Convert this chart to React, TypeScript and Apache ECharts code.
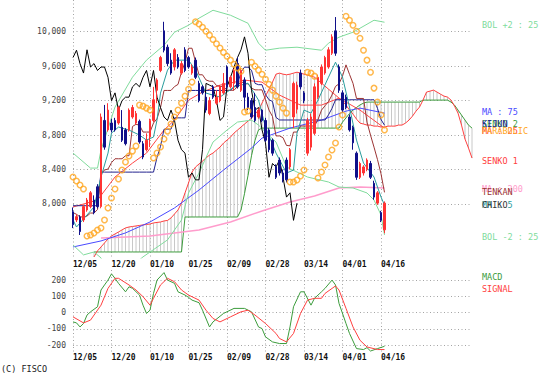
import React, { useEffect, useRef } from 'react';
import * as echarts from 'echarts';

const N = 115;
const tickLabels = ['12/05', '12/20', '01/10', '01/25', '02/09', '02/28', '03/14', '04/01', '04/16'];
const priceTicks = [8000, 8400, 8800, 9200, 9600, 10000];
const macdTicks = [-200, -100, 0, 100, 200];

const opens = [7910,7815,7850,7815,7930,7970,8046,8200,7970,8970,
8860,8940,8970,8940,8890,8860,8860,9010,8940,8960,
8700,8630,8780,8970,9320,9550,10010,9820,9670,9590,
9700,9520,9790,9700,9520,9670,9400,9360,9240,9050,
9360,9170,9200,9290,9590,9360,9400,9630,9320,9440,
9240,9200,9120,9010,9090,8970,8860,8740,8430,8510,
8360,8510,8430,9010,9100,9520,9290,8590,8660,8820,
9240,9400,9520,9590,9750,10010,9590,9290,9240,9010,
8890,8590,8310,8360,8400,8470,8240,8010,7900,7700];
const closes = [7760,7853,7680,7970,8046,8130,7900,7970,9010,8660,
9090,8860,8860,9120,8740,8700,9090,9120,9050,8720,
8545,8740,8970,9210,9440,9700,9785,9630,9520,9790,
9590,9630,9550,9590,9590,9470,9200,9290,9090,9200,
9240,9240,9360,9400,9360,9470,9550,9360,9550,9240,
9120,9010,8970,9090,8970,8740,8630,8590,8310,8360,
8280,8280,8630,9400,9380,9360,9200,8970,9010,9360,
9470,9590,9700,9790,9940,9750,9320,9090,9120,8860,
8710,8310,8470,8430,8510,8310,8080,8130,7810,8010];
const highs = [7960,7880,7870,7990,8070,8150,8100,8230,9050,9150,
9170,8990,9000,9140,9090,8880,9110,9150,9080,8980,
8730,8820,8990,9360,9460,9720,10115,9850,9750,9810,
9740,9660,9820,9720,9620,9700,9430,9380,9290,9240,
9380,9320,9380,9520,9610,9490,9570,9700,9580,9470,
9290,9230,9290,9110,9100,9000,8880,8760,8460,8540,
8400,8540,8650,9420,9420,9560,9310,9000,9050,9400,
9500,9620,9720,9820,9970,10170,9620,9320,9270,9040,
8910,8610,8490,8450,8530,8500,8270,8150,7920,8030];
const lows = [7720,7790,7640,7790,7910,7950,7880,7950,7950,8630,
8840,8830,8840,8920,8720,8680,8840,8990,8920,8700,
8520,8610,8660,8950,9170,9530,9760,9600,9500,9550,
9570,9500,9530,9570,9500,9450,9180,9270,9060,9030,
9220,9150,9180,9270,9330,9340,9320,9340,9300,9090,
9090,8990,8950,8990,8950,8720,8600,8560,8290,8330,
8250,8250,8400,8880,9050,9330,9170,8560,8620,8800,
9220,9380,9500,9570,9730,9720,9290,9060,9100,8840,
8630,8280,8290,8330,8380,8290,8050,7990,7790,7660];

const tenkan = [7900,7880,7850,7850,7860,7895,7895,7935,8345,8395,
8405,8480,8525,8525,8525,8560,8560,8900,8925,8915,
8835,8835,8835,8940,8990,9120,9318,9318,9318,9363,
9388,9533,9643,9808,9808,9650,9500,9500,9440,9425,
9425,9375,9365,9365,9320,9320,9320,9365,9425,9395,
9395,9345,9325,9325,9325,9210,9090,9015,8790,8790,
8770,8680,8675,8835,8835,8905,8905,8905,8905,8905,
8980,9090,9140,9190,9265,9365,9395,9485,9615,9505,
9400,9225,9225,9225,8950,8800,8660,8515,8350,8135];
const kijun = [7980,7980,7980,7980,7980,7980,7980,7980,8370,8370,
8370,8370,8370,8370,8370,8370,8370,8370,8370,8370,
8370,8370,8370,8370,8540,8670,8868,8868,8868,9000,
9000,9000,9000,9318,9318,9318,9318,9318,9318,9318,
9318,9318,9318,9318,9318,9318,9363,9388,9533,9588,
9588,9553,9400,9385,9385,9270,9210,9190,9005,8975,
8975,8975,8975,8975,8975,8975,8975,8975,8975,8975,
8975,8975,8975,9035,9110,9210,9210,9210,9210,9210,
9210,9210,9210,9210,9210,9210,9210,9110,8980,8915];
const senko1 = [null,null,null,null,null,null,
7385,7455,7501,7548,7594,7629,7652,7675,7699,7722,
7733,7739,7745,7751,7757,7762,7768,7780,7786,7791,
7803,7809,7838,7884,7930,8012,8128,8243,8371,8429,
8464,8499,8533,8568,8591,8626,8661,8707,8742,8777,
8823,8858,8893,8928,8962,8997,9043,9090,9171,9252,
9333,9415,9507,9519,9507,9500,9507,9519,9530,9519,
9507,9496,9484,9472,9438,9403,9368,9333,9299,9264,
9229,9194,9148,9090,9043,8985,8939,8928,8916,8916,
8904,8904,8893,8893,8904,8904,8904,8916,8916,8939,
8974,9020,9078,9125,9206,9299,9310,9322,9299,9275,
9252,9241,9206,9136,9055,8916,8754,8649,8533];
const senko2 = [null,null,null,null,null,null,
7443,7443,7443,7443,7443,7443,7443,7443,7443,7443,
7443,7443,7443,7443,7443,7443,7443,7443,7443,7443,
7443,7443,7443,7443,7443,7443,7849,7849,7849,7849,
7849,7849,7849,7849,7849,7849,7849,7849,7849,7849,
7849,7849,7930,8120,8330,8560,8740,8860,8881,8881,
8881,8881,8881,8881,8881,8881,8881,8881,8881,8881,
8881,8881,8881,8881,8881,8881,8881,8881,8881,8881,
8881,8950,9000,9050,9090,9120,9150,9171,9183,9183,
9183,9183,9183,9183,9183,9183,9183,9183,9183,9183,
9183,9183,9183,9183,9206,9206,9206,9206,9206,9206,
9206,9206,9183,9148,9090,9032,8974,8916,8881];
const parabolic = [8313,8267,8220,8174,7629,7641,7664,7699,7722,7814,
7954,8070,8174,8290,8394,8487,8557,8614,8672,9148,
9136,9113,9090,8533,8591,8661,8754,8846,8928,9009,
9090,9171,9252,9333,9415,10115,10090,10052,10006,9960,
9910,9860,9810,9760,9716,9670,9623,9580,9540,9067,
9080,9646,9600,9554,9507,9449,9391,9322,9252,9183,
9113,9055,8255,8255,8278,8325,8394,9530,9519,9484,
8301,8371,8452,8545,8626,8707,8893,9032,10180,10133,
10075,10006,9925,9785,9670,9530,9345,9183,9032,8858];

const ma5 = [[0,7814],[1,7733],[6,7965],[8,8313],[10,8591],[11,8823],[13,8893],[16,8858],[19,8800],[21,8742],[23,8777],[24,8974],[25,9287],[27,9554],[29,9670],[33,9670],[35,9554],[38,9287],[42,9241],[46,9357],[50,9403],[53,9206],[55,8893],[58,8591],[61,8359],[63,8394],[64,8823],[66,9090],[68,9055],[70,9206],[73,9472],[75,9646],[77,9472],[79,9125],[81,8742],[83,8475],[86,8313],[88,8081],[89,7988]];
const ma25 = [[0,7965],[7,8046],[12,8313],[17,8475],[21,8591],[26,8858],[29,8974],[33,9206],[37,9299],[42,9380],[49,9438],[54,9415],[59,9264],[65,9148],[71,9148],[76,9229],[82,9090],[89,8881]];
const ma75 = [[0,7501],[8,7571],[15,7664],[22,7791],[29,7954],[36,8162],[43,8394],[51,8649],[54,8765],[62,8881],[71,8974],[78,9078],[82,9113],[89,9055]];
const ma200 = [[8,7606],[22,7629],[36,7699],[45,7791],[54,7919],[62,8023],[69,8093],[76,8186],[82,8197],[89,8186]];
const bolUpper = [[0,8591],[5,8417],[7,8417],[8,8626],[12,9125],[17,9472],[21,9670],[26,9843],[29,9994],[33,10075],[36,10157],[40,10249],[45,10191],[50,10098],[53,9867],[55,9785],[59,9809],[64,9820],[71,9785],[73,9867],[76,9936],[80,9994],[86,10133],[89,10110]];
const bolLower = [[0,7525],[3,7409],[6,7443],[8,7374],[10,7200],[16,7250],[20,7386],[27,7583],[31,7814],[33,8128],[36,8359],[40,8719],[44,8858],[47,8951],[51,8974],[53,8916],[55,8835],[58,8719],[61,8429],[67,8313],[73,8255],[76,8197],[80,8186],[84,8128],[86,8046],[88,7872],[89,7641]];

const macd = [[0,-57],[1,-63],[2,-88],[3,-67],[4,-15],[5,5],[7,36],[8,139],[9,170],[10,200],[11,238],[12,211],[13,180],[15,128],[16,159],[17,149],[19,108],[20,46],[21,-5],[22,15],[23,118],[24,200],[26,246],[27,200],[29,180],[30,128],[32,108],[33,94],[34,77],[36,61],[37,15],[39,-88],[40,-57],[43,-5],[46,26],[49,26],[51,5],[53,-88],[54,-98],[55,-149],[57,-180],[59,-190],[61,-190],[62,-88],[63,36],[65,128],[66,128],[68,46],[69,88],[71,128],[72,149],[74,200],[75,170],[76,57],[78,-67],[79,-128],[81,-221],[83,-227],[84,-215],[85,-236],[87,-221],[89,-207]];
const signal = [[0,-26],[3,-63],[5,-46],[8,46],[10,149],[12,211],[13,211],[16,170],[18,139],[20,98],[22,46],[23,88],[25,170],[27,211],[29,190],[31,139],[33,108],[36,77],[38,15],[40,-36],[42,-57],[45,-26],[48,5],[50,15],[52,-15],[55,-67],[58,-128],[59,-159],[61,-180],[63,-128],[65,-5],[67,77],[69,88],[71,88],[72,118],[75,164],[76,139],[78,26],[80,-88],[82,-170],[84,-211],[87,-227],[89,-227]];

const C = {
  up: '#ff3333', down: '#10108a', ma5: '#2a9d9d', ma25: '#ff4444', ma75: '#4a4aff', ma200: '#ff9ccc',
  bol: '#80dc9c', tenkan: '#9c3434', kijun: '#23238f', senko1: '#ff4040', senko2: '#3c9c3c', chiko: '#000000',
  sar: '#ffa620', grid: '#a4a4a4', cloud: '#c8c8c8', macd: '#3c9c3c', signal: '#ff4040',
};
const FONT = '"DejaVu Sans Mono", monospace';

function App() {
  const ref = useRef<HTMLDivElement>(null);
  useEffect(() => {
    const chart = echarts.init(ref.current as HTMLDivElement, null, { renderer: 'svg' });
    const cats = Array.from({ length: N }, (_, i) => String(i));
    const candleData = opens.map((o, i) => [o, closes[i], lows[i], highs[i]]);
    const chiko = closes.slice(25);
    const cloud: number[][] = [];
    senko1.forEach((v, i) => {
      const w = senko2[i];
      if (v != null && w != null) cloud.push([i, v, w]);
    });
    const showTick = (idx: number) => idx % 11 === 0 && idx <= 88;
    const fmtX = (_: string, idx: number) => tickLabels[Math.round(idx / 11)] || '';
    const fmtY = (v: number) => String(v).replace(/\B(?=(\d{3})+(?!\d))/g, ',');
    const dotted = { color: C.grid, width: 1, type: [1, 2.5] as any };
    const xAxisBase = (gi: number, margin: number) => ({
      type: 'category', gridIndex: gi, data: cats, boundaryGap: false,
      axisLine: { show: false }, axisTick: { show: false },
      axisLabel: { interval: showTick, formatter: fmtX, align: 'left', margin, fontSize: 8, fontFamily: FONT, fontWeight: 'bold', color: '#111' },
      splitLine: { show: true, interval: showTick, lineStyle: dotted },
    });
    const line = (data: any[], color: string, xi = 0, width = 1, z = 3) => ({
      type: 'line', data, xAxisIndex: xi, yAxisIndex: xi, symbol: 'none', showSymbol: false,
      lineStyle: { color, width }, itemStyle: { color }, z, silent: true, connectNulls: false,
    });
    const lbl = (text: string, y: number, fill: string) => ({
      type: 'text', x: 482, y,
      style: { text, fill, font: `8.5px ${FONT}`, verticalAlign: 'middle', textVerticalAlign: 'middle' },
    });
    chart.setOption({
      animation: false,
      backgroundColor: '#ffffff',
      grid: [
        { left: 73, top: 0, width: 399, height: 258 },
        { left: 73, top: 270, width: 399, height: 82 },
      ],
      xAxis: [xAxisBase(0, 2), xAxisBase(1, 1)],
      yAxis: [
        {
          type: 'value', gridIndex: 0, min: 7373, max: 10368,
          axisLine: { show: false }, axisTick: { show: false, customValues: priceTicks },
          axisLabel: { customValues: priceTicks, formatter: fmtY, fontSize: 8, fontFamily: FONT, color: '#444', margin: 7 },
          splitLine: { show: true, lineStyle: dotted },
        },
        {
          type: 'value', gridIndex: 1, min: -242, max: 262,
          axisLine: { show: false }, axisTick: { show: false, customValues: macdTicks },
          axisLabel: { customValues: macdTicks, fontSize: 8, fontFamily: FONT, color: '#444', margin: 7 },
          splitLine: { show: true, lineStyle: dotted },
        },
      ],
      series: [
        {
          type: 'custom', xAxisIndex: 0, yAxisIndex: 0, data: cloud, encode: { x: 0, y: [1, 2] }, silent: true, z: 1,
          renderItem: (_p: any, api: any) => {
            const a = api.coord([api.value(0), api.value(1)]);
            const b = api.coord([api.value(0), api.value(2)]);
            return { type: 'line', shape: { x1: a[0], y1: a[1], x2: b[0], y2: b[1] }, style: { stroke: C.cloud, lineWidth: 1 } };
          },
        },
        line(senko2, C.senko2, 0, 1, 2),
        line(senko1, C.senko1, 0, 1, 2),
        line(ma200, C.ma200, 0, 1.5),
        line(ma75, C.ma75),
        line(bolUpper, C.bol),
        line(bolLower, C.bol),
        line(ma25, C.ma25),
        line(kijun, C.kijun),
        line(tenkan, C.tenkan),
        line(ma5, C.ma5),
        line(chiko, C.chiko),
        {
          type: 'candlestick', xAxisIndex: 0, yAxisIndex: 0, data: candleData, barWidth: 2, z: 4, silent: true,
          itemStyle: { color: C.up, color0: C.down, borderColor: C.up, borderColor0: C.down, borderWidth: 1 },
        },
        {
          type: 'scatter', xAxisIndex: 0, yAxisIndex: 0, data: parabolic, symbol: 'circle', symbolSize: 5.5, z: 5, silent: true,
          itemStyle: { color: 'rgba(255,255,255,0)', borderColor: C.sar, borderWidth: 1.5 },
        },
        line(macd, C.macd, 1),
        line(signal, C.signal, 1),
      ],
      graphic: [
        lbl('BOL +2 : 25', 25, C.bol),
        lbl('MA : 75', 112, C.ma75),
        lbl('SENKO 2', 124, C.senko2),
        lbl('KIJUN', 124, C.kijun),
        lbl('MA : 25', 131, C.ma25),
        lbl('PARABOLIC', 131, C.sar),
        lbl('SENKO 1', 161, C.senko1),
        lbl('MA : 200', 189, C.ma200),
        lbl('TENKAN', 192, C.tenkan),
        lbl('MA : 5', 205, C.ma5),
        lbl('CHIKO', 205, '#333'),
        lbl('BOL -2 : 25', 237, C.bol),
        lbl('MACD', 277, C.macd),
        lbl('SIGNAL', 289, C.signal),
        { type: 'text', x: 1, y: 369, style: { text: '(C) FISCO', fill: '#222', font: `8.5px ${FONT}`, verticalAlign: 'middle', textVerticalAlign: 'middle' } },
      ],
    });
    return () => chart.dispose();
  }, []);
  return <div ref={ref} style={{ position: 'fixed', left: 0, top: 0, width: 551, height: 384 }} />;
}

export default App;
